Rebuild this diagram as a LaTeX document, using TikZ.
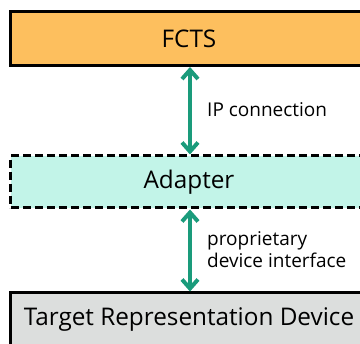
\documentclass[tikz,border=0pt]{standalone}
\usepackage{fontspec}
\setmainfont{Open Sans}
\usetikzlibrary{arrows.meta}
\definecolor{fctsfill}{HTML}{FDBF5E}
\definecolor{adaptfill}{HTML}{C2F4E8}
\definecolor{devfill}{HTML}{DCDEDD}
\definecolor{arrowteal}{HTML}{1A9B7B}
\tikzset{
  box/.style={draw=black, line width=3pt, minimum width=356pt, minimum height=54pt, inner sep=0pt, font=\fontsize{24.3}{28}\selectfont},
  dashbox/.style={box, dash pattern=on 8pt off 4pt},
  link/.style={draw=arrowteal, line width=4pt, {Straight Barb[length=9pt,width=16pt,line width=4pt]}-{Straight Barb[length=9pt,width=16pt,line width=4pt]}},
  lbl/.style={font=\fontsize{19}{22}\selectfont, inner sep=0pt, anchor=base west, align=left}
}
\begin{document}
\begin{tikzpicture}[x=1pt,y=1pt]
\clip (0,0) rectangle (360,-344);
\fill[white] (0,0) rectangle (360,-344);
\node[box, fill=fctsfill] (fcts) at (189,-38.5) {FCTS};
\node[dashbox, fill=adaptfill, minimum height=52pt] (adapter) at (189,-182) {Adapter};
\node[box, fill=devfill] (dev) at (189,-320) {Target Representation Device};
\coordinate (a1) at (190,-66);
\coordinate (b1) at (190,-209);
\draw[link] (fcts.south -| a1) -- (adapter.north -| a1);
\draw[link] (adapter.south -| b1) -- (dev.north -| b1);
\node[lbl] (ip) at (207,-117) {IP connection};
\node[lbl] (prop) at (207,-246) {proprietary};
\node[lbl] (dif) at (207,-268) {device interface};
\end{tikzpicture}
\end{document}
